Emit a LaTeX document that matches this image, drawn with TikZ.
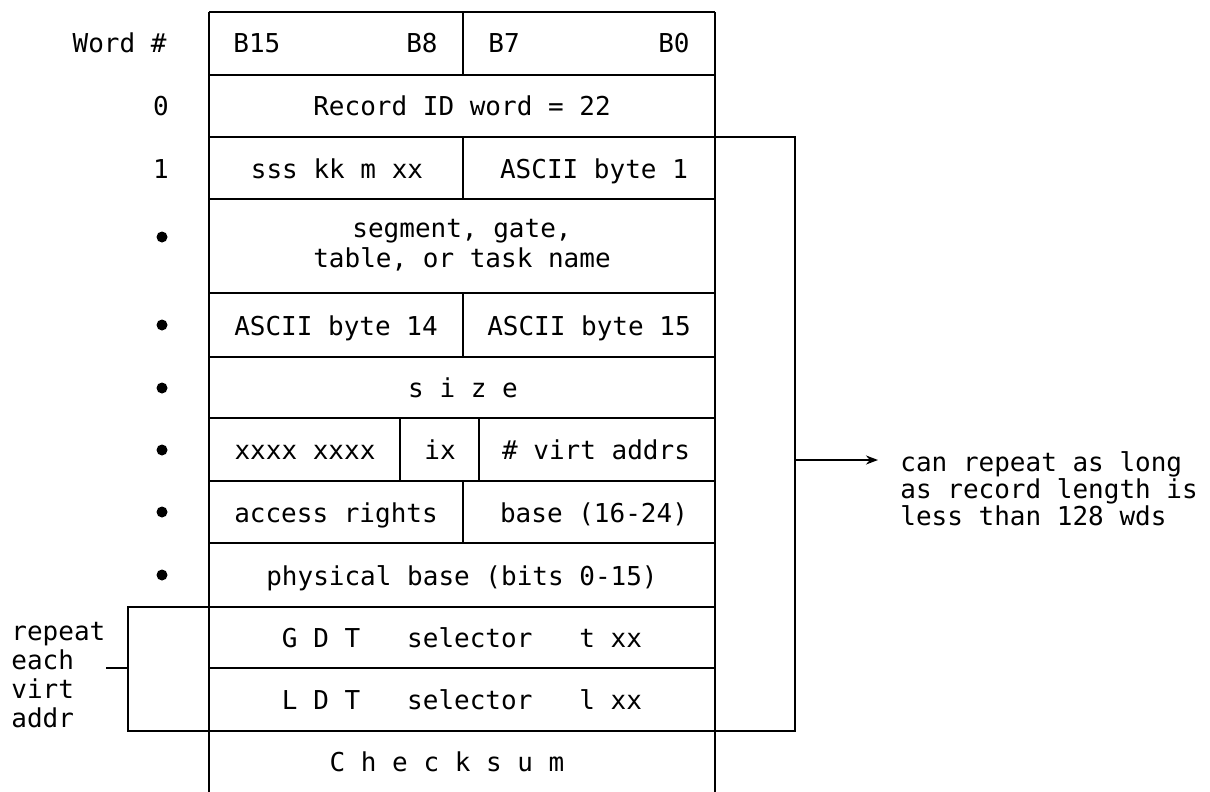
\documentclass[tikz,border=0pt]{standalone}
\usepackage{fontspec}
\setmainfont{DejaVu Sans Mono}
\usetikzlibrary{arrows.meta}
\begin{document}
\begin{tikzpicture}[x=0.5pt,y=-0.5pt,
  rule/.style={line width=1.25pt},
  txt/.style={inner sep=0pt,font=\fontsize{13pt}{15pt}\selectfont},
  ctext/.style={txt,anchor=base},
  ltext/.style={txt,anchor=base west},
  rtext/.style={txt,anchor=base east},
  dot/.style={circle,fill=black,inner sep=0pt,minimum size=5.5pt}]
\useasboundingbox[fill=white] (0,0) rectangle (1210,792);
% outer edges
\draw[rule] (209,12) -- (209,792);
\draw[rule] (715,12) -- (715,792);
% horizontal rules
\foreach \y in {12,75,137,199,293,357,418,481,543,607,668,731}
  \draw[rule] (209,\y) -- (715,\y);
% dividers
\draw[rule] (463,12) -- (463,75);
\draw[rule] (463,137) -- (463,199);
\draw[rule] (463,293) -- (463,357);
\draw[rule] (400,418) -- (400,481);
\draw[rule] (479,418) -- (479,481);
\draw[rule] (463,481) -- (463,543);
% header
\node[rtext] (wordh) at (167,53) {Word \#};
\node[ltext] (b15) at (233,53) {B15};
\node[rtext] (b8) at (438,53) {B8};
\node[ltext] (b7) at (488,53) {B7};
\node[rtext] (b0) at (690,53) {B0};
% row labels
\node[ctext] (w0) at (161,116) {0};
\node[ctext] (w1) at (161,178) {1};
\foreach \b [count=\i] in {237,325,388,450,512,575}
  \node[dot] (d\i) at (162,\b) {};
% cells
\node[ctext] (recid) at (462,116) {Record ID word = 22};
\node[ctext] (sss) at (337,178) {sss kk m xx};
\node[ctext] (asc1) at (594,178) {ASCII byte 1};
\node[ctext] (seg1) at (462,237) {segment, gate,};
\node[ctext] (seg2) at (462,267) {table, or task name};
\node[ctext] (asc14) at (336,335) {ASCII byte 14};
\node[ctext] (asc15) at (589,335) {ASCII byte 15};
\node[ctext] (size) at (463,397) {s i z e};
\node[ctext] (xxxx) at (305,459) {xxxx xxxx};
\node[ctext] (ix) at (440,459) {ix};
\node[ctext] (virt) at (596,459) {\# virt addrs};
\node[ctext] (acc) at (336,522) {access rights};
\node[ctext] (base) at (594,522) {base (16-24)};
\node[ctext] (phys) at (462,585) {physical base (bits 0-15)};
\node[ctext] (gdt) at (462,647) {G D T~~~selector~~~t xx};
\node[ctext] (ldt) at (462,709) {L D T~~~selector~~~l xx};
\node[ctext] (chk) at (447,771) {C h e c k s u m};
% right bracket
\coordinate (rbt) at (715,137);
\coordinate (rbb) at (715,731);
\coordinate (rmid) at (795,460);
\draw[rule] (rbt) -- (795,137) -- (795,731) -- (rbb);
\node[ltext] (r1) at (900,471) {can repeat as long};
\node[ltext] (r2) at (900,498) {as record length is};
\node[ltext] (r3) at (900,525) {less than 128 wds};
\coordinate (rtip) at (878,460);
\draw[line width=1pt,-{Stealth[length=6pt,width=4.5pt]}] (rmid) -- (rtip);
% left bracket
\coordinate (lbt) at (209,607);
\coordinate (lbb) at (209,731);
\draw[rule] (lbt) -- (128,607) -- (128,731) -- (lbb);
\coordinate (ltick) at (106,668);
\draw[rule] (128,668) -- (ltick);
\node[ltext] (l1) at (11,640) {repeat};
\node[ltext] (l2) at (11,669) {each};
\node[ltext] (l3) at (11,698) {virt};
\node[ltext] (l4) at (11,727) {addr};
\end{tikzpicture}
\end{document}
